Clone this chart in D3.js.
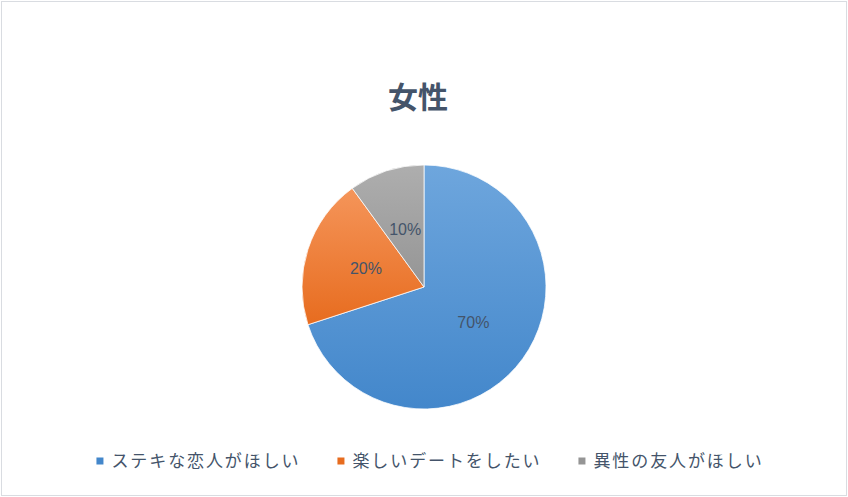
<!DOCTYPE html>
<html>
<head>
<meta charset="utf-8">
<script src="https://cdn.jsdelivr.net/npm/d3@7"></script>
<style>
  html, body { margin: 0; padding: 0; background: #fff; }
  svg { display: block; }
</style>
</head>
<body>
<div id="pie-chart"></div>
<script>
    // data
    var title = "女性";
    var categories = ["ステキな恋人がほしい", "楽しいデートをしたい", "異性の友人がほしい"];
    var shares = [0.7, 0.2, 0.1];
    var colors = [["#6EA6DD", "#4387CB"], ["#F5955A", "#E76C1F"], ["#AEAEAE", "#959595"]];

    var width = 848,
        height = 497,
        radius = 122,
        cx = 424,
        cy = 287;
    var textColor = "#44546A";
    var jp = "'Noto Sans CJK JP', 'Noto Sans', sans-serif";

    var svg = d3.select("#pie-chart").append("svg")
        .attr("width", width)
        .attr("height", height);

    // chart frame
    svg.append("rect")
        .attr("x", 1.5).attr("y", 1.5)
        .attr("width", width - 3).attr("height", height - 3)
        .attr("fill", "#fff")
        .attr("stroke", "#D9DCE1")
        .attr("stroke-width", 1);

    // gradients, one per slice (top light, bottom dark)
    var defs = svg.append("defs");
    colors.forEach(function (c, i) {
        var lg = defs.append("linearGradient")
            .attr("id", "grad" + i)
            .attr("x1", 0).attr("y1", 0).attr("x2", 0).attr("y2", 1);
        lg.append("stop").attr("offset", "0%").attr("stop-color", c[0]);
        lg.append("stop").attr("offset", "100%").attr("stop-color", c[1]);
    });

    svg.append("text")
        .attr("x", 418)
        .attr("y", 95)
        .attr("text-anchor", "middle")
        .attr("dominant-baseline", "central")
        .style("font-family", jp)
        .style("font-size", "30px")
        .style("font-weight", "bold")
        .style("fill", textColor)
        .text(title);

    var pie = d3.pie()
        .sort(null)
        .value(function (d) { return d; });
    var arc = d3.arc()
        .innerRadius(0)
        .outerRadius(radius);
    var labelArc = d3.arc()
        .innerRadius(radius * 0.5)
        .outerRadius(radius * 0.5);
    var fmt = d3.format(".0%");

    var g = svg.append("g")
        .attr("transform", "translate(" + cx + "," + cy + ")");
    var slice = g.selectAll(".arc")
        .data(pie(shares))
        .enter()
        .append("g")
        .attr("class", "arc");
    slice.append("path")
        .attr("d", arc)
        .style("fill", function (d, i) { return "url(#grad" + i + ")"; })
        .style("stroke", "#fff")
        .style("stroke-width", 0.75);
    slice.append("text")
        .attr("transform", function (d) { return "translate(" + labelArc.centroid(d) + ")"; })
        .attr("dy", ".35em")
        .style("text-anchor", "middle")
        .style("font-family", "'Liberation Sans', Arial, sans-serif")
        .style("font-size", "16px")
        .style("fill", textColor)
        .text(function (d) { return fmt(d.data); });

    // legend
    var legend = svg.append("g");
    var x = 0;
    categories.forEach(function (name, i) {
        var item = legend.append("g").attr("transform", "translate(" + x + ",0)");
        item.append("rect")
            .attr("x", 0).attr("y", -3.5)
            .attr("width", 7).attr("height", 7)
            .style("fill", colors[i][1]);
        var t = item.append("text")
            .attr("x", 15)
            .attr("dy", "0.35em")
            .style("font-family", jp)
            .style("font-size", "17px")
            .style("letter-spacing", "1.9px")
            .style("fill", textColor)
            .text(name);
        x += 15 + t.node().getComputedTextLength() + 37;
    });
    var legendWidth = x - 37;
    legend.attr("transform", "translate(" + (430 - legendWidth / 2) + ",461)");
</script>
</body>
</html>
